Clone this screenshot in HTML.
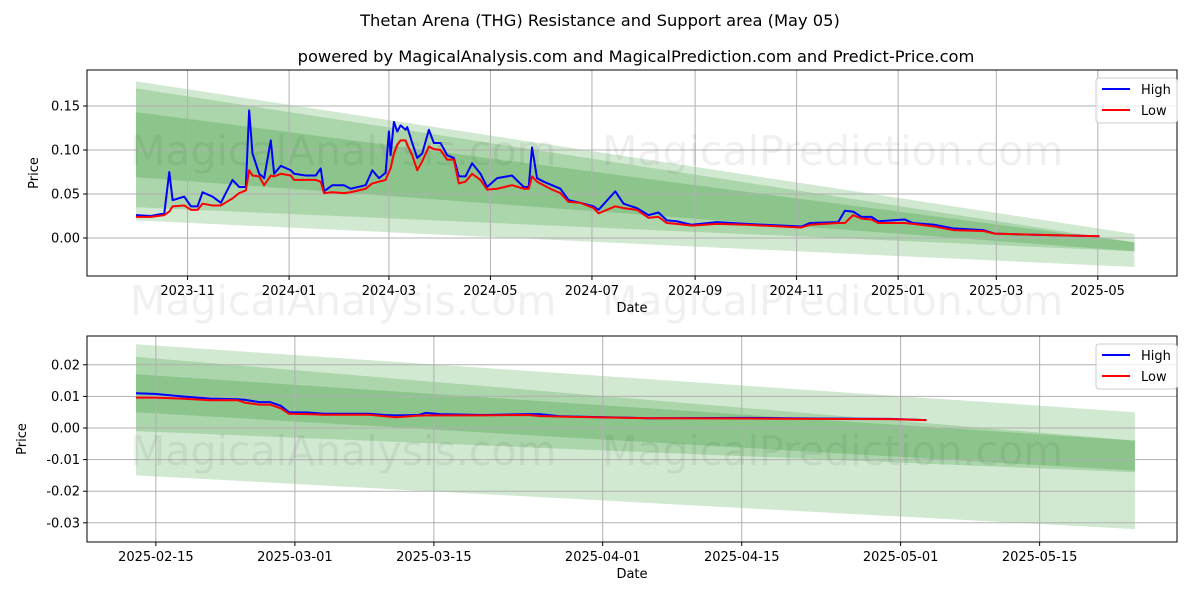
<!DOCTYPE html>
<html><head><meta charset="utf-8"><style>
body{margin:0;background:#fff;font-family:"Liberation Sans","DejaVu Sans",sans-serif}
svg text{font-family:"DejaVu Sans","Liberation Sans",sans-serif}
</style></head><body>
<svg id="chart" width="1200" height="600" viewBox="0 0 1200 600" xmlns="http://www.w3.org/2000/svg">
<rect width="1200" height="600" fill="#fff"/>
<text x="600" y="26" text-anchor="middle" font-size="16.3">Thetan Arena (THG) Resistance and Support area (May 05)</text>
<text x="636" y="62" text-anchor="middle" font-size="16.3">powered by MagicalAnalysis.com and MagicalPrediction.com and Predict-Price.com</text>
<g id="top"></g>
<g id="bot"></g>
</svg>
<script>
// ---- top panel data (day offsets from 2023-10-01) ----
const topDays=[0,9,17,20,22,29,33,37,40,46,51,58,62,66,68,70,74,77,81,83,87,93,95,102,108,111,113,118,125,129,138,142,146,150,152,153,155,157,159,162,163,166,169,172,176,179,183,187,191,194,198,202,207,211,217,226,233,236,238,241,245,250,255,260,267,275,278,288,293,301,308,314,319,325,334,349,367,400,405,422,426,431,436,442,446,462,467,480,491,509,516,534,556,579];
const topHigh=[0.026,0.025,0.028,0.075,0.043,0.047,0.036,0.036,0.052,0.047,0.040,0.066,0.058,0.058,0.145,0.096,0.073,0.068,0.111,0.073,0.082,0.077,0.073,0.071,0.071,0.079,0.053,0.060,0.060,0.056,0.060,0.077,0.068,0.074,0.121,0.094,0.132,0.121,0.128,0.123,0.126,0.108,0.091,0.096,0.123,0.108,0.108,0.094,0.091,0.070,0.070,0.085,0.073,0.058,0.068,0.071,0.058,0.058,0.103,0.068,0.064,0.060,0.056,0.043,0.040,0.036,0.032,0.053,0.039,0.034,0.026,0.029,0.020,0.019,0.015,0.018,0.016,0.013,0.017,0.018,0.031,0.030,0.024,0.024,0.019,0.021,0.017,0.015,0.011,0.009,0.005,0.004,0.003,0.002];
const topLow=[0.024,0.024,0.026,0.030,0.036,0.037,0.032,0.032,0.039,0.037,0.037,0.045,0.051,0.054,0.077,0.071,0.070,0.060,0.071,0.070,0.073,0.071,0.066,0.066,0.066,0.064,0.051,0.052,0.051,0.052,0.056,0.062,0.064,0.066,0.075,0.079,0.096,0.106,0.111,0.111,0.106,0.094,0.077,0.087,0.104,0.101,0.100,0.089,0.089,0.062,0.064,0.073,0.066,0.055,0.056,0.060,0.056,0.056,0.070,0.064,0.060,0.055,0.051,0.041,0.040,0.034,0.028,0.036,0.034,0.032,0.023,0.024,0.017,0.016,0.014,0.016,0.015,0.012,0.015,0.017,0.017,0.026,0.022,0.021,0.017,0.017,0.016,0.013,0.009,0.008,0.005,0.004,0.003,0.002];
const topTickLabels=["2023-11","2024-01","2024-03","2024-05","2024-07","2024-09","2024-11","2025-01","2025-03","2025-05"];
const topTickDays=[31,92,152,213,274,336,397,458,517,578];
const topYTicks=[0.00,0.05,0.10,0.15];
const topBandsStart=[[0.178,0.020],[0.170,0.035],[0.143,0.069]];
const topBandsEnd=[[0.0045,-0.033],[-0.005,-0.015],[-0.005,-0.015]];
const topBandEndDay=600;
// ---- bottom panel data (day offsets from 2025-02-13) ----
const botDays=[0,1.9,4.6,7.5,10.2,11.0,12.4,13.5,14.6,15.4,17.3,19.0,23.5,25.1,26.2,28.4,29.2,30.6,35.0,39.5,40.6,42.8,46.1,51.7,61.5,68.2,75.9,79.6];
const botHigh=[0.0110,0.0108,0.0100,0.0093,0.0091,0.0089,0.0082,0.0082,0.0070,0.0050,0.0049,0.0045,0.0045,0.0041,0.0040,0.0041,0.0048,0.0044,0.0041,0.0044,0.0044,0.0037,0.0035,0.0031,0.0032,0.0030,0.0029,0.0025];
const botLow=[0.0096,0.0096,0.0093,0.0088,0.0088,0.0080,0.0074,0.0074,0.0062,0.0045,0.0044,0.0042,0.0042,0.0037,0.0034,0.0039,0.0040,0.0040,0.0040,0.0041,0.0038,0.0036,0.0034,0.0031,0.0030,0.0029,0.0028,0.0025];
const botTickLabels=["2025-02-15","2025-03-01","2025-03-15","2025-04-01","2025-04-15","2025-05-01","2025-05-15"];
const botTickDays=[2,16,30,47,61,77,91];
const botYTicks=[-0.03,-0.02,-0.01,0.00,0.01,0.02];
const botBandsStart=[[0.0265,-0.015],[0.0225,-0.001],[0.017,0.005]];
const botBandsEnd=[[0.005,-0.032],[-0.004,-0.014],[-0.004,-0.0135]];
const botBandEndDay=100.6;

const NS="http://www.w3.org/2000/svg";
function mk(parent,tag,attrs){const e=document.createElementNS(NS,tag);for(const k in attrs)e.setAttribute(k,attrs[k]);parent.appendChild(e);return e;}

function panel(g,o){
  const X=d=>o.x0+d*o.pxDay, Y=v=>o.y0-v*o.pxVal;
  o.bs.forEach((b,i)=>{
    const e=o.be[i];
    const p=mk(g,'polygon',{points:`${X(0)},${Y(b[0])} ${X(o.bandEnd)},${Y(e[0])} ${X(o.bandEnd)},${Y(e[1])} ${X(0)},${Y(b[1])}`,fill:'#008000','fill-opacity':0.18});
    
    
  });
  o.ticks.forEach((d,i)=>{
    const l=mk(g,'line',{x1:X(d),x2:X(d),y1:o.top,y2:o.bottom,stroke:'#b0b0b0','stroke-width':1});
    
    
    mk(g,'line',{x1:X(d),x2:X(d),y1:o.bottom,y2:o.bottom+4,stroke:'#000'});
    const t=mk(g,'text',{x:X(d),y:o.bottom+19,'text-anchor':'middle','font-size':13});
    t.textContent=o.labels[i];
    
    
  });
  o.yticks.forEach(v=>{
    const l=mk(g,'line',{x1:o.left,x2:o.right,y1:Y(v),y2:Y(v),stroke:'#b0b0b0','stroke-width':1});
    
    
    mk(g,'line',{x1:o.left-4,x2:o.left,y1:Y(v),y2:Y(v),stroke:'#000'});
    const t=mk(g,'text',{x:o.left-7,y:Y(v)+4.5,'text-anchor':'end','font-size':13});
    t.textContent=v.toFixed(2);
    
    
  });
  o.wm.forEach(w=>{
    const t=mk(g,'text',{x:w[0],y:w[1],'font-size':41,fill:'#000','fill-opacity':0.06});
    t.textContent=w[2];
    
    
  });
  [[o.high,'#0000ff','high-line'],[o.low,'#ff0000','low-line']].forEach(s=>{
    const pl=mk(g,'polyline',{points:o.days.map((d,i)=>X(d)+','+Y(s[0][i])).join(' '),fill:'none',stroke:s[1],'stroke-width':2,'stroke-linejoin':'round'});
    
    
  });
  mk(g,'rect',{x:o.left,y:o.top,width:o.right-o.left,height:o.bottom-o.top,fill:'none',stroke:'#000','stroke-width':1});
  const xl=mk(g,'text',{x:(o.left+o.right)/2,y:o.bottom+36,'text-anchor':'middle','font-size':13});
  xl.textContent='Date';
  
  
  const yl=mk(g,'text',{x:o.ylx,y:(o.top+o.bottom)/2,'text-anchor':'middle','font-size':13,transform:`rotate(-90 ${o.ylx} ${(o.top+o.bottom)/2})`});
  yl.textContent='Price';
  
  
  const lg=mk(g,'g',{});
  
  
  mk(lg,'rect',{x:1096,y:o.top+8,width:81,height:45,rx:3,fill:'#fff','fill-opacity':0.8,stroke:'#ccc'});
  [['High','#0000ff',o.top+19],['Low','#ff0000',o.top+40]].forEach(e=>{
    mk(lg,'line',{x1:1102,x2:1130,y1:e[2],y2:e[2],stroke:e[1],'stroke-width':2});
    const t=mk(lg,'text',{x:1141,y:e[2]+5,'font-size':13});
    t.textContent=e[0];
    
    
  });
}
panel(document.getElementById('top'),{x0:136,pxDay:1.664,y0:238,pxVal:880,left:87,right:1177,top:70,bottom:276,
  days:topDays,high:topHigh,low:topLow,ticks:topTickDays,labels:topTickLabels,yticks:topYTicks,
  bs:topBandsStart,be:topBandsEnd,bandEnd:topBandEndDay,ylx:38,
  wm:[[130,165,'MagicalAnalysis.com'],[602,165,'MagicalPrediction.com'],[130,315,'MagicalAnalysis.com'],[602,315,'MagicalPrediction.com']]});
panel(document.getElementById('bot'),{x0:136,pxDay:9.93,y0:428,pxVal:3160,left:87,right:1177,top:336,bottom:542,
  days:botDays,high:botHigh,low:botLow,ticks:botTickDays,labels:botTickLabels,yticks:botYTicks,
  bs:botBandsStart,be:botBandsEnd,bandEnd:botBandEndDay,ylx:26,
  wm:[[130,465,'MagicalAnalysis.com'],[602,465,'MagicalPrediction.com']]});
</script>
</body></html>
